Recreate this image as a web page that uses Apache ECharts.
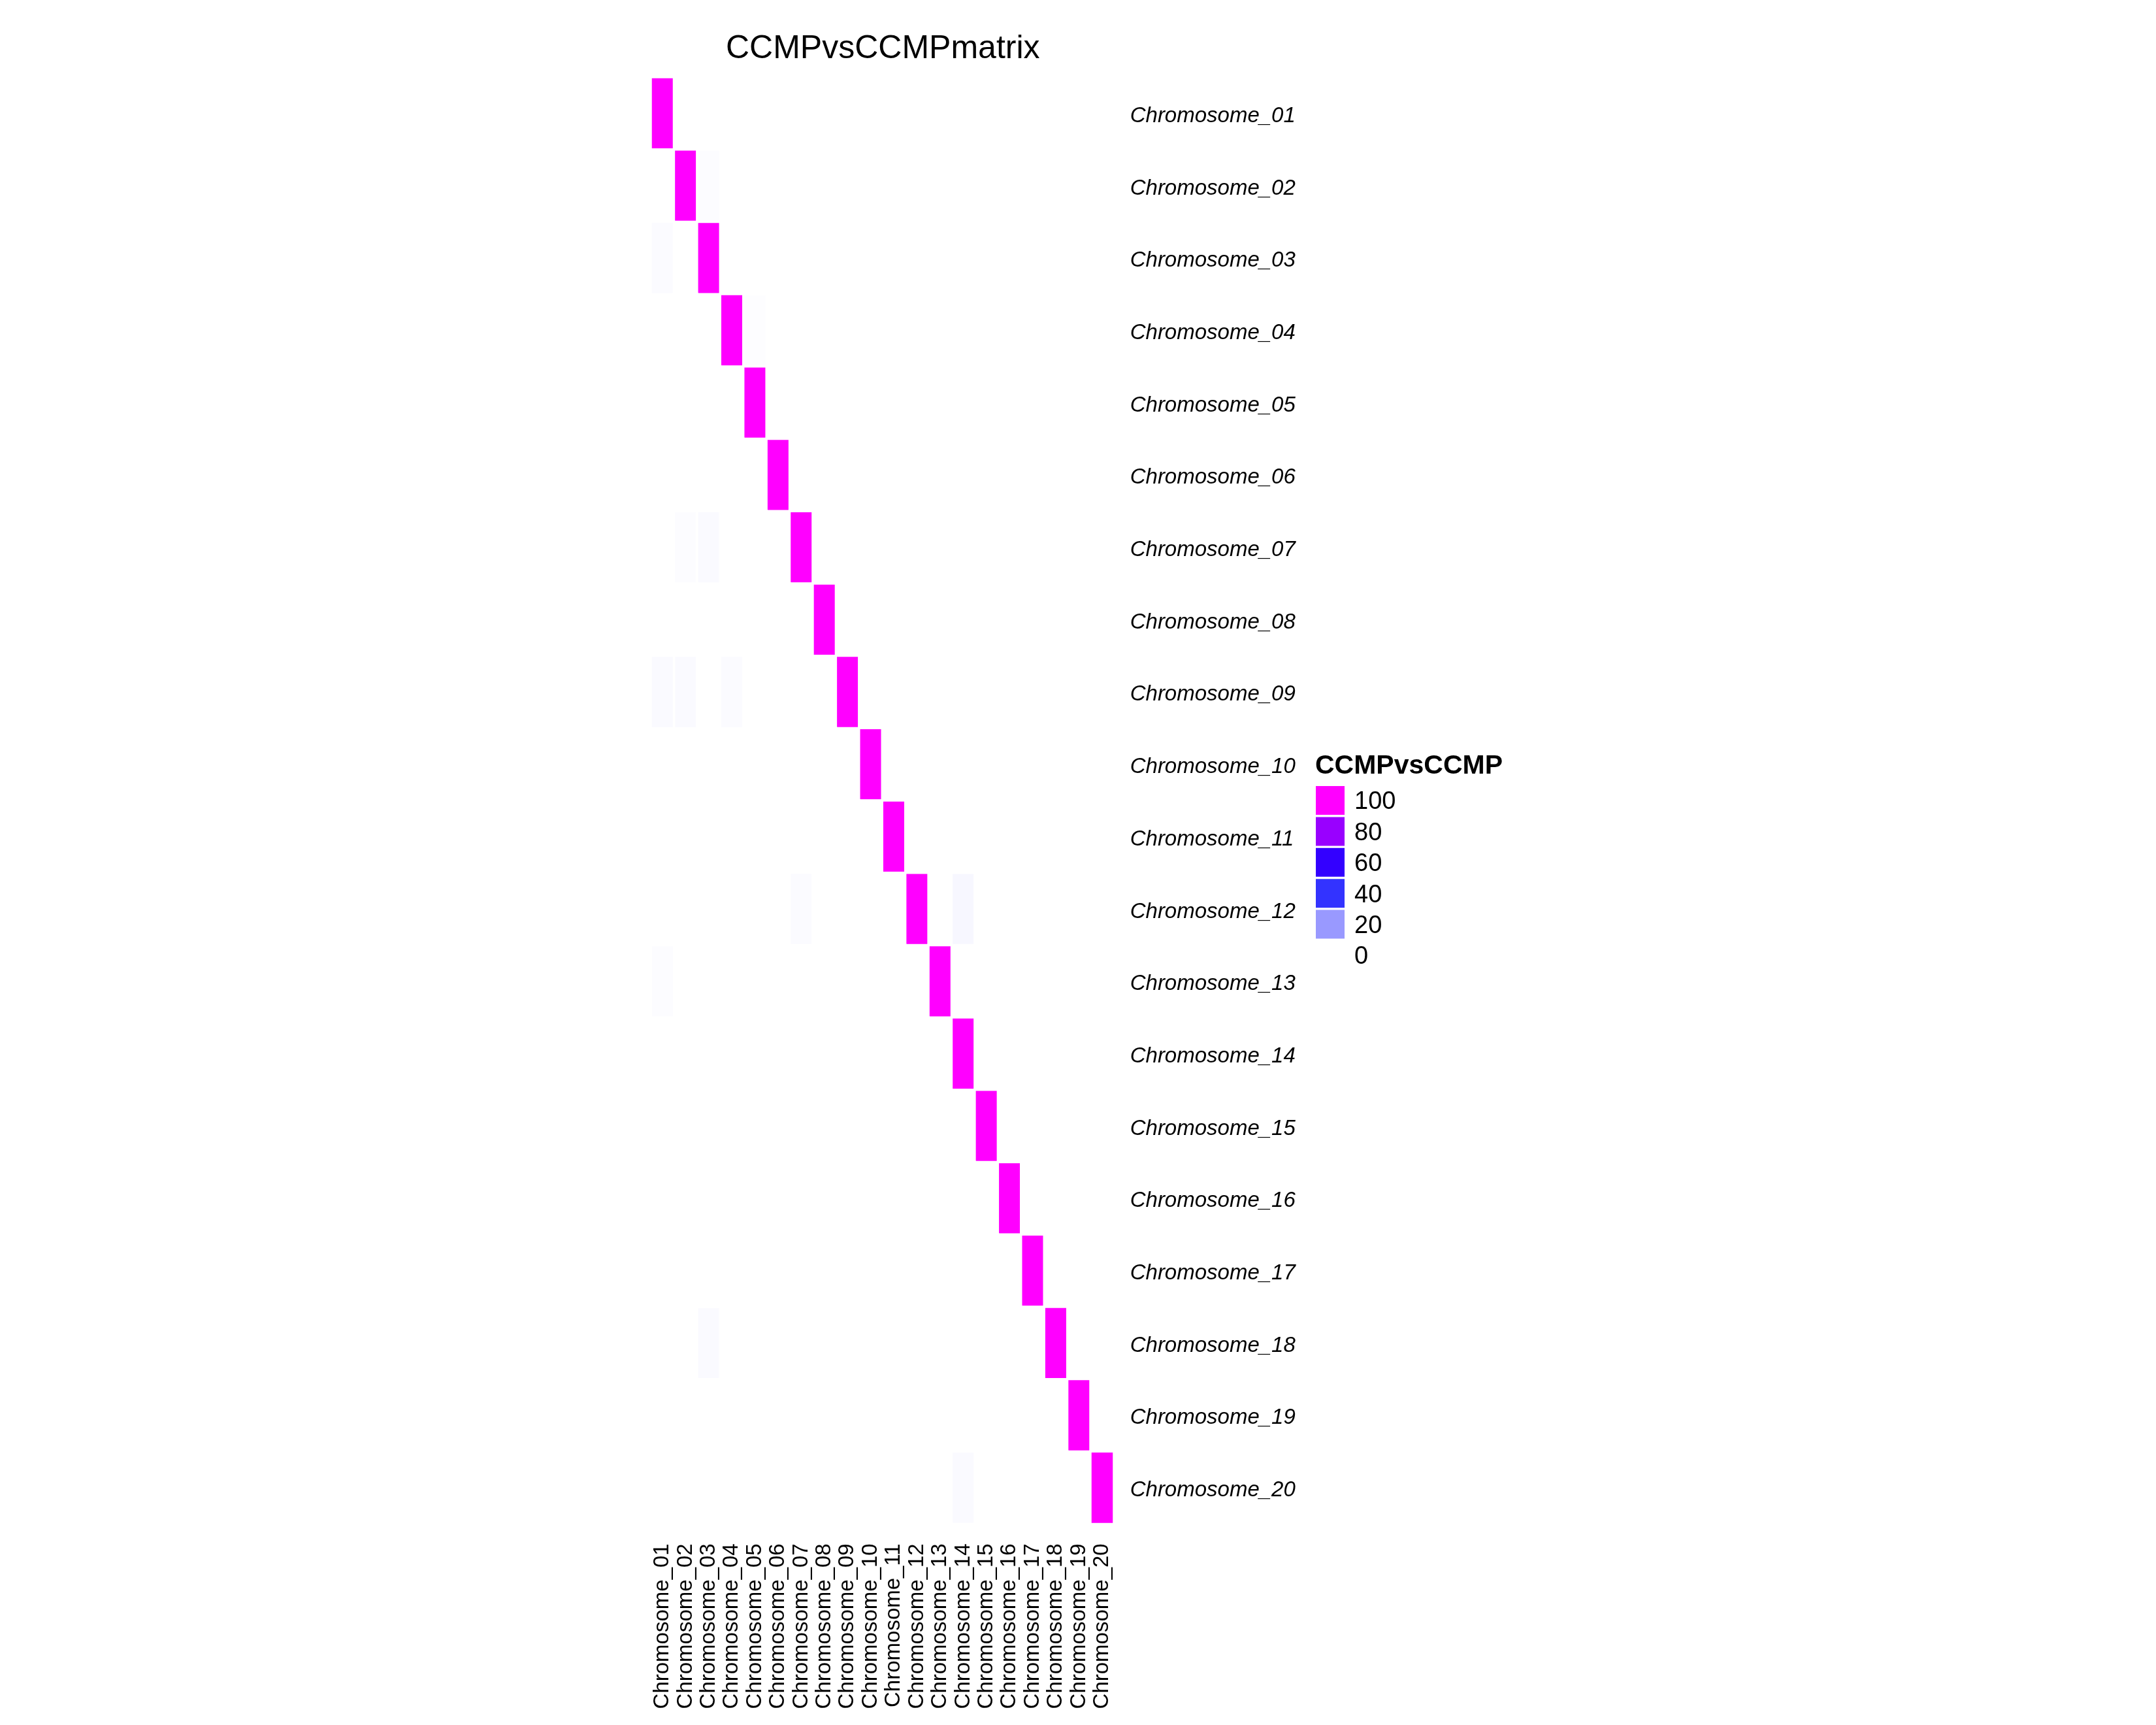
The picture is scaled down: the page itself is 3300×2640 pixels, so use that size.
<!DOCTYPE html>
<html>
<head>
<meta charset="utf-8">
<script src="https://cdn.jsdelivr.net/npm/echarts@6/dist/echarts.min.js"></script>
<style>
  html, body { margin: 0; padding: 0; background: #ffffff; }
  #chart { width: 3300px; height: 2640px; }
</style>
</head>
<body>
<div id="chart"></div>
<script>
// ---- data ----
const chartTitle = 'CCMPvsCCMPmatrix';
const legendTitle = 'CCMPvsCCMP';
const rowLabels = ['Chromosome_01','Chromosome_02','Chromosome_03','Chromosome_04','Chromosome_05',
  'Chromosome_06','Chromosome_07','Chromosome_08','Chromosome_09','Chromosome_10',
  'Chromosome_11','Chromosome_12','Chromosome_13','Chromosome_14','Chromosome_15',
  'Chromosome_16','Chromosome_17','Chromosome_18','Chromosome_19','Chromosome_20'];
const colLabels = rowLabels.slice();
// diagonal (self vs self) values
const diagonalValues = [100,100,100,100,100,100,100,100,100,100,100,100,100,100,100,100,100,100,100,100];
// small off-diagonal values: [rowIndex, colIndex, value] (0-based)
const minorCells = [
  [1, 2, 0.5],
  [2, 0, 0.8],
  [3, 4, 0.3],
  [6, 1, 0.6],
  [6, 2, 0.9],
  [8, 0, 0.9],
  [8, 1, 1.0],
  [8, 3, 0.8],
  [11, 6, 0.7],
  [11, 13, 1.5],
  [12, 0, 0.6],
  [17, 2, 0.9],
  [19, 13, 0.9]
];
const legendValues = [0, 20, 40, 60, 80, 100];
const legendColors = ['#FFFFFF', '#9999FF', '#3333FF', '#3300FF', '#9900FF', '#FF00FF'];
const scaleColors = ['#FFFFFF', '#0000FF', '#FF00FF'];

// ---- build matrix ----
const matrix = rowLabels.map(() => colLabels.map(() => 0));
diagonalValues.forEach((v, i) => { matrix[i][i] = v; });
minorCells.forEach(([r, c, v]) => { matrix[r][c] = v; });
const heatData = [];
matrix.forEach((row, r) => row.forEach((v, c) => heatData.push([c, r, v])));

const FONT = '"Liberation Sans", Helvetica, Arial, sans-serif';

const chart = echarts.init(document.getElementById('chart'), null, { renderer: 'canvas' });
chart.setOption({
  backgroundColor: '#ffffff',
  animation: false,
  title: [
    {
      text: chartTitle,
      left: 1111, top: 50, padding: 0,
      textStyle: { fontFamily: FONT, fontSize: 50, fontWeight: 'normal', color: '#000000' }
    },
    {
      text: legendTitle,
      left: 2013, top: 1152, padding: 0,
      textStyle: { fontFamily: FONT, fontSize: 41, fontWeight: 'bold', color: '#000000' }
    }
  ],
  grid: { left: 996.3, top: 118.3, width: 708.4, height: 2214, containLabel: false },
  xAxis: {
    type: 'category',
    data: colLabels,
    position: 'bottom',
    axisLine: { show: false },
    axisTick: { show: false },
    splitLine: { show: false },
    axisLabel: {
      rotate: 90, interval: 0, margin: 30,
      fontFamily: FONT, fontSize: 33, color: '#000000'
    }
  },
  yAxis: {
    type: 'category',
    data: rowLabels,
    inverse: true,
    position: 'right',
    axisLine: { show: false },
    axisTick: { show: false },
    splitLine: { show: false },
    axisLabel: {
      interval: 0, margin: 25, align: 'left',
      verticalAlign: 'top', lineHeight: 8,
      fontFamily: FONT, fontSize: 33, fontStyle: 'italic', color: '#000000'
    }
  },
  visualMap: [
    {
      type: 'continuous',
      show: false,
      seriesIndex: 0,
      min: 0, max: 100,
      dimension: 2,
      inRange: { color: scaleColors }
    },
    {
      type: 'piecewise',
      seriesIndex: 1,
      show: true,
      orient: 'vertical',
      align: 'left',
      left: 2014, top: 1203,
      padding: 0,
      itemWidth: 44, itemHeight: 44, itemGap: 3.4,
      itemSymbol: 'rect',
      textGap: 15,
      selectedMode: false,
      hoverLink: false,
      textStyle: {
        fontFamily: FONT, fontSize: 38, color: '#000000',
        rich: { n: { fontFamily: FONT, fontSize: 38, color: '#000000', lineHeight: 38, padding: [6, 0, 0, 0] } }
      },
      pieces: legendValues.map((v, i) => ({ value: v, label: '{n|' + v + '}', color: legendColors[i] }))
    }
  ],
  series: [
    {
      type: 'heatmap',
      data: heatData,
      itemStyle: { borderColor: '#ffffff', borderWidth: 3.4 },
      emphasis: { disabled: true }
    },
    {
      type: 'scatter',
      data: [],
      silent: true
    }
  ]
});
</script>
</body>
</html>
